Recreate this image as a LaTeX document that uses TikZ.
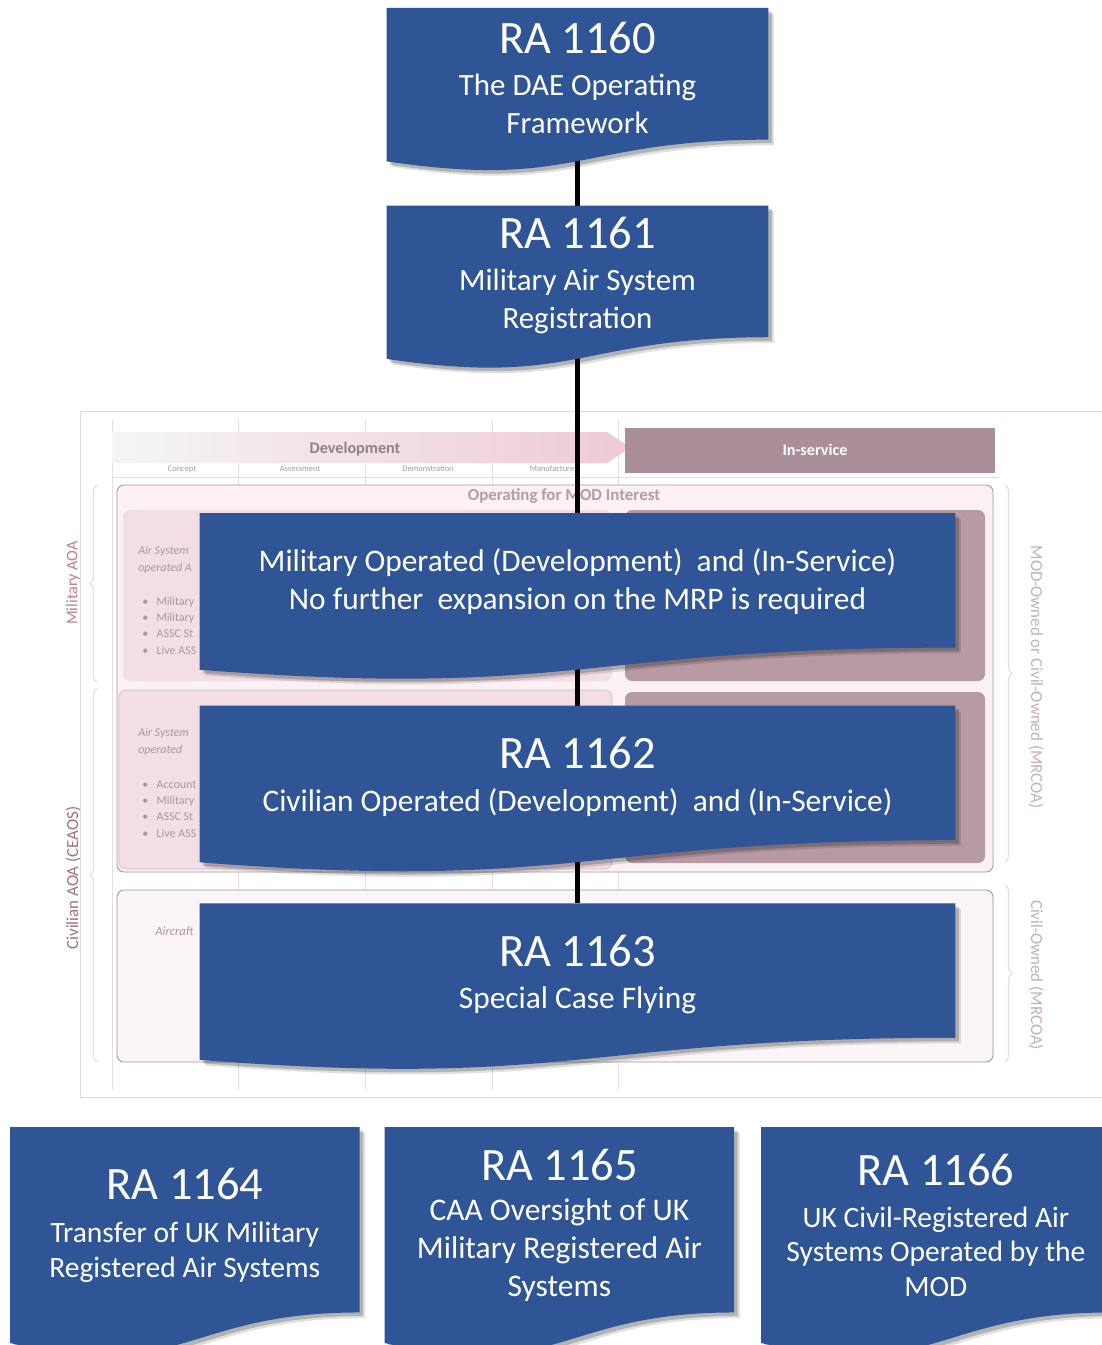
\documentclass[tikz,border=0pt]{standalone}
\usepackage{fontspec}
\setmainfont{Carlito}
\usetikzlibrary{calc,positioning,decorations.pathreplacing}

\newdimen\unitpx \unitpx=0.025cm

\definecolor{rablue}{RGB}{47,85,151}
\definecolor{mauve}{RGB}{170,142,153}
\definecolor{mauvebox}{RGB}{184,154,165}
\definecolor{pinkbox}{RGB}{244,222,230}
\definecolor{pinkfill}{RGB}{251,241,245}
\definecolor{devpink}{RGB}{238,202,214}
\definecolor{groupline}{RGB}{168,146,155}
\definecolor{chartgrey}{RGB}{140,130,135}
\definecolor{faint}{RGB}{228,222,224}
\definecolor{milred}{RGB}{196,124,138}
\definecolor{civmauve}{RGB}{160,112,126}
\definecolor{ownpink}{RGB}{196,176,183}

\pgfdeclarelayer{chart}
\pgfdeclarelayer{docs}
\pgfsetlayers{chart,docs,main}

\tikzset{%
	docbox/.style = {rectangle, inner sep=0pt, text=white, align=center, font=\fontsize{22}{27}\selectfont},
	upper/.style  = {docbox, minimum width=381\unitpx, minimum height=139\unitpx},
	wide/.style   = {docbox, minimum width=755\unitpx, minimum height=142\unitpx, font=\fontsize{22.3}{27}\selectfont},
	lower/.style  = {docbox, minimum width=349\unitpx, minimum height=196\unitpx, font=\fontsize{21}{24.5}\selectfont},
	link/.style   = {line width=3.6pt, black},
	group/.style  = {draw=groupline, line width=0.6pt, rounded corners=5pt},
	brace/.style  = {decorate, decoration={brace, amplitude=5pt}, draw=faint, line width=0.8pt},
	rowtext/.style = {font=\fontsize{8.5}{10}\selectfont, text=chartgrey!80, anchor=west, inner sep=0pt},
	phase/.style  = {font=\fontsize{6}{7}\selectfont, text=chartgrey!80, inner sep=0pt},
}
\newcommand{\ratitle}[1]{{\fontsize{33}{39}\selectfont #1}}
% wavy "document" outline of a node
\newcommand{\docpath}[1]{(#1.north west) -- (#1.north east) -- ($(#1.north east)!0.9435!(#1.south east)$) .. controls ($(#1.north)!0.9435!(#1.south)$) and ($(#1.north)!1.3024!(#1.south)$) .. ($(#1.north west)!1.0988!(#1.south west)$) -- cycle}

\begin{document}
\begin{tikzpicture}[x=0.025cm, y=-0.025cm]
	\useasboundingbox (0,0) rectangle (1102,1345);

	% regulation stack
	\node[upper, anchor=north] (r1160) at (577.5,8) {\ratitle{RA 1160}\\[3pt] The DAE Operating\\ Framework};
	\node[upper, below=58\unitpx of r1160] (r1161) {\ratitle{RA 1161}\\[3pt] Military Air System\\ Registration};
	\node[wide, below=168\unitpx of r1161] (milop) {Military Operated (Development)~ and (In-Service)\\ No further~ expansion on the MRP is required\\[-20pt]\mbox{}};
	\node[wide, below=50\unitpx of milop] (r1162) {\ratitle{RA 1162}\\[4pt] Civilian Operated (Development)~ and (In-Service)};
	\node[wide, below=55\unitpx of r1162] (r1163) {\ratitle{RA 1163}\\[3pt] Special Case Flying};

	% bottom row
	\node[lower, anchor=north west] (r1164) at (10,1127) {\ratitle{RA 1164}\\[6pt] Transfer of UK Military\\ Registered Air Systems};
	\node[lower, right=25\unitpx of r1164, font=\fontsize{22.4}{27}\selectfont] (r1165) {\ratitle{RA 1165}\\[2pt] CAA Oversight of UK\\ Military Registered Air\\ Systems};
	\node[lower, right=27\unitpx of r1165] (r1166) {\ratitle{RA 1166}\\[5pt] UK Civil-Registered Air\\ Systems Operated by the\\ MOD};

	\begin{pgfonlayer}{docs}
		\foreach \n in {r1160,r1161,milop,r1162,r1163,r1164,r1165,r1166}{
			\fill[black, opacity=0.12, transform canvas={shift={(4pt,-4pt)}}] \docpath{\n};
			\fill[black, opacity=0.2, transform canvas={shift={(2.5pt,-2.5pt)}}] \docpath{\n};
			\fill[rablue] \docpath{\n};
		}
	\end{pgfonlayer}

	\begin{pgfonlayer}{chart}
		\fill[white] (0,0) rectangle (1102,1345);
		\draw[black!14, line width=0.6pt] (80,411) rectangle (1112,1097);
		\foreach \x in {112,238,365,492,618}
			\draw[faint, line width=0.5pt] (\x,420) -- (\x,1090);
		\draw[faint, line width=0.5pt] (112,477) -- (1000,477);

		% lifecycle header
		\shade[left color=black!4, right color=devpink] (112,432) -- (607,432) -- (630,447.5) -- (607,463) -- (112,463) -- cycle;
		\node[font=\bfseries\fontsize{11.5}{13}\selectfont, text=chartgrey] (dev) at (355,449) {Development};
		\fill[mauve] (625,428) rectangle (995,473);
		\node[font=\bfseries\fontsize{11.5}{13}\selectfont, text=white] (insvc) at (815,450) {In-service};
		\node[phase] (ph1) at (182,469) {Concept};
		\node[phase] (ph2) at (300,469) {Assessment};
		\node[phase] (ph3) at (428,469) {Demonstration};
		\node[phase] (ph4) at (552,469) {Manufacture};

		% operating groups
		\draw[group, fill=pinkfill] (117,485) rectangle (993,872);
		\node[font=\bfseries\fontsize{12}{13}\selectfont, text=ownpink!90!black] (modint) at (564,496) {Operating for MOD Interest};
		\fill[pinkbox, rounded corners=5pt] (123,510) rectangle (612,681);
		\fill[mauvebox, rounded corners=5pt] (625,510) rectangle (985,681);
		\draw[pinkbox, fill=pinkbox, rounded corners=5pt, draw=groupline!60] (119,690) rectangle (612,869);
		\fill[mauvebox, rounded corners=5pt] (625,692) rectangle (985,863);
		\draw[group, fill=pinkfill!70] (117,890) rectangle (993,1062);

		\node[rowtext, font=\itshape\fontsize{8.5}{10}\selectfont] (t1a) at (138,551) {Air System};
		\node[rowtext, font=\itshape\fontsize{8.5}{10}\selectfont] (t1b) at (138,568) {operated A};
		\foreach \y/\t in {602/Military, 618/Military, 634/ASSC St, 650/Live ASS}
			\node[rowtext] at (142,\y) {\textbullet\hspace{6pt}\t};
		\node[rowtext, font=\itshape\fontsize{8.5}{10}\selectfont] (t2a) at (138,733) {Air System};
		\node[rowtext, font=\itshape\fontsize{8.5}{10}\selectfont] (t2b) at (138,750) {operated};
		\foreach \y/\t in {785/Account, 801/Military, 817/ASSC St, 833/Live ASS}
			\node[rowtext] at (142,\y) {\textbullet\hspace{6pt}\t};
		\node[rowtext, font=\itshape\fontsize{9}{10}\selectfont] (t3) at (155,931) {Aircraft};

		% side braces and labels
		\draw[brace] (97,682) -- (97,485);
		\draw[brace] (97,1062) -- (97,688);
		\draw[brace] (1005,485) -- (1005,862);
		\draw[brace] (1005,885) -- (1005,1062);
		\node[rotate=90, text=milred, font=\fontsize{11.5}{12}\selectfont] (milaoa) at (73,583) {Military AOA};
		\node[rotate=90, text=civmauve, font=\fontsize{12}{13}\selectfont] (civaoa) at (73,878) {Civilian AOA (CEAOS)};
		\node[rotate=-90, text=ownpink, font=\fontsize{12}{13}\selectfont] (ownmix) at (1036,677) {MOD-Owned or Civil-Owned (MRCOA)};
		\node[rotate=-90, text=ownpink, font=\fontsize{12}{13}\selectfont] (owncivil) at (1036,975) {Civil-Owned (MRCOA)};

		% connectors
		\draw[link] (r1160) -- (r1161);
		\draw[link] (r1161) -- (milop) -- (r1162) -- (r1163);
	\end{pgfonlayer}
\end{tikzpicture}
\end{document}
